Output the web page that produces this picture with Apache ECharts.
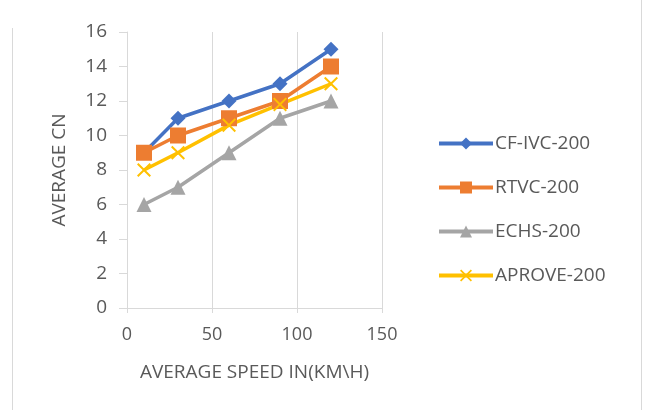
<!DOCTYPE html>
<html><head><meta charset="utf-8">
<script src="https://cdn.jsdelivr.net/npm/echarts@6/dist/echarts.min.js"></script>
<style>html,body{margin:0;padding:0;background:#fff}#c{width:649px;height:419px}</style>
</head><body><div id="c"></div>
<script>
const speeds = [10, 30, 60, 90, 120];
const cfIvc = [9, 11, 12, 13, 15];
const rtvc = [9, 10, 11, 12, 14];
const echs = [6, 7, 9, 11, 12];
const aprove = [8, 9, 10.6, 11.8, 13];
const seriesNames = ['CF-IVC-200', 'RTVC-200', 'ECHS-200', 'APROVE-200'];
const xTicks = [0, 50, 100, 150];
const yTicks = [0, 2, 4, 6, 8, 10, 12, 14, 16];

const font = '"Open Sans", sans-serif';
const txt = '#595959';
const crossPath = 'path://M0,1 L1,0 L5,4 L9,0 L10,1 L6,5 L10,9 L9,10 L5,6 L1,10 L0,9 L4,5 Z';
const pairs = v => speeds.map((s, i) => [s, v[i]]);

const defs = [
  {name: seriesNames[0], data: cfIvc, color: '#4472C4', symbol: 'diamond', size: 15},
  {name: seriesNames[1], data: rtvc, color: '#ED7D31', symbol: 'rect', size: 16},
  {name: seriesNames[2], data: echs, color: '#A5A5A5', symbol: 'triangle', size: 15},
  {name: seriesNames[3], data: aprove, color: '#FFC000', symbol: crossPath, size: 14}
];

const chart = echarts.init(document.getElementById('c'));
chart.setOption({
  animation: false,
  backgroundColor: '#fff',
  graphic: [
    {type: 'line', shape: {x1: 12.5, y1: 28, x2: 12.5, y2: 410}, style: {stroke: '#d9d9d9', lineWidth: 1}},
    {type: 'line', shape: {x1: 641.5, y1: 0, x2: 641.5, y2: 410}, style: {stroke: '#d9d9d9', lineWidth: 1}}
  ],
  grid: {left: 127, right: 267, top: 32, bottom: 111},
  legend: {
    orient: 'vertical', left: 432, top: 129, itemGap: 25,
    itemWidth: 54, itemHeight: 15,
    lineStyle: {width: 4},
    textStyle: {color: txt, fontSize: 19, fontFamily: font, padding: [0, 0, 0, -3]},
    data: seriesNames
  },
  xAxis: {
    type: 'value', min: 0, max: 150, interval: 50,
    name: 'AVERAGE SPEED IN(KM\\H)', nameLocation: 'middle', nameGap: 55,
    nameTextStyle: {color: txt, fontSize: 19, fontFamily: font},
    axisLine: {show: true, lineStyle: {color: '#d9d9d9', width: 1}},
    axisTick: {show: true, length: 5, lineStyle: {color: '#d9d9d9'}},
    axisLabel: {color: txt, fontSize: 18, fontFamily: font, margin: 18,
      formatter: v => xTicks.includes(v) ? String(v) : ''},
    splitLine: {show: true, lineStyle: {color: '#d9d9d9', width: 1}}
  },
  yAxis: {
    type: 'value', min: 0, max: 16, interval: 2,
    name: 'AVERAGE CN', nameLocation: 'middle', nameGap: 58,
    nameTextStyle: {color: txt, fontSize: 19, fontFamily: font},
    axisLine: {show: true, lineStyle: {color: '#d9d9d9', width: 1}},
    axisTick: {show: true, length: 8, lineStyle: {color: '#d9d9d9'}},
    axisLabel: {color: txt, fontSize: 19, fontFamily: font, margin: 20,
      formatter: v => yTicks.includes(v) ? String(v) : ''},
    splitLine: {show: false}
  },
  series: defs.map(d => ({
    type: 'line', name: d.name, data: pairs(d.data),
    symbol: d.symbol, symbolSize: d.size, showAllSymbol: true,
    lineStyle: {color: d.color, width: 3.5},
    itemStyle: {color: d.color, borderWidth: 0},
    emphasis: {disabled: true}
  }))
});
</script></body></html>
